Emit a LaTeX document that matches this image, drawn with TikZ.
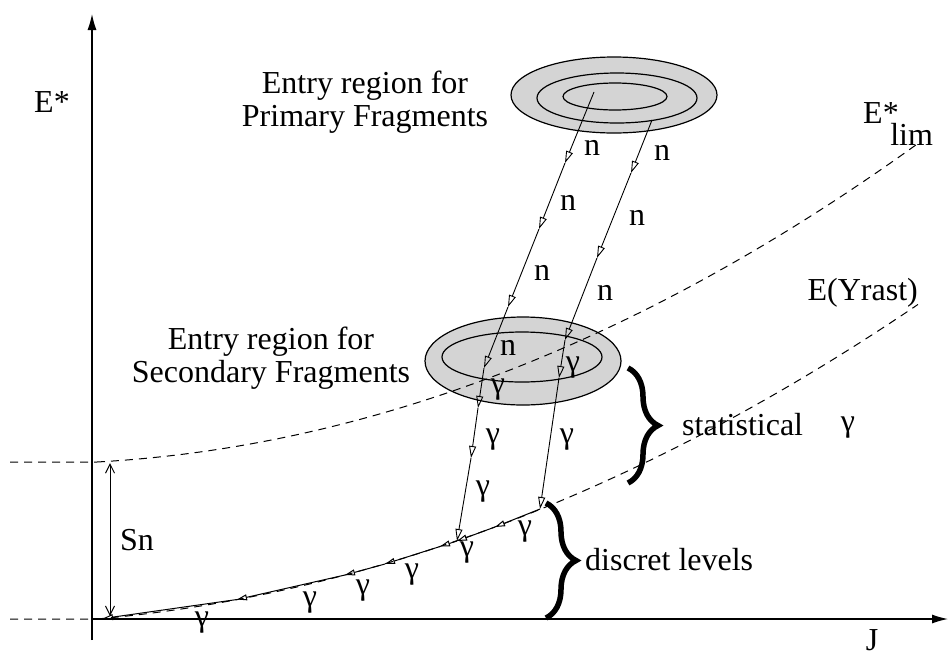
\documentclass[tikz,border=0pt]{standalone}
\usepackage{fontspec}
\setmainfont{Liberation Serif}
\usetikzlibrary{arrows.meta,decorations.pathreplacing,shapes.geometric}
\definecolor{regiongray}{RGB}{212,212,212}
\begin{document}
\begin{tikzpicture}[x=1pt,y=-1pt,
  lbl/.style={font=\fontsize{32}{33}\selectfont, inner sep=0pt},
  curve/.style={line width=1pt, dash pattern=on 8pt off 6pt},
  trans/.style={line width=0.9pt, -{Triangle[open,length=12pt,width=7pt]}},
  ylev/.style={line width=1pt, -{Triangle[open,length=10pt,width=6pt]}},
  axis/.style={line width=1.2pt, -{Latex[length=16pt,width=9pt]}},
  region/.style={draw, line width=1.2pt, fill=regiongray, ellipse, inner sep=0pt},
  bigbrace/.style={decorate, decoration={brace, amplitude=#1}, line width=5.5pt},
]
\useasboundingbox (0,0) rectangle (949,659);

% entry regions
\node[region, minimum width=206pt, minimum height=76pt] (prim3) at (614,95) {};
\node[region, minimum width=160pt, minimum height=50pt] (prim2) at (617,98) {};
\node[region, minimum width=104pt, minimum height=27pt] (prim1) at (615,96.5) {};
\node[region, minimum width=196pt, minimum height=88pt] (sec2) at (523,361) {};
\node[region, minimum width=160pt, minimum height=50pt] (sec1) at (522,357) {};

% axes
\coordinate (ybot) at (92,640);
\coordinate (ytop) at (92,14);
\coordinate (xbeg) at (92,619);
\coordinate (xend) at (948,619);
\draw[axis] (ybot) -- (ytop);
\draw[axis] (xbeg) -- (xend);

% dashed curves
\draw[curve] (10,619) -- (97,619) plot[domain=0:8.21,samples=60] ({97+100*\x},{619-8.84*\x-3.59*\x*\x});
\draw[curve] (10,462) -- (97,462) plot[domain=0:8.2,samples=60] ({97+100*\x},{462-5.55*\x-4.05*\x*\x});

% yrast levels
\coordinate (L0) at (540,509);
\coordinate (L1) at (495,527);
\coordinate (L2) at (457,541);
\coordinate (L3) at (440,546.5);
\coordinate (L4) at (385,564);
\coordinate (L5) at (345,575);
\coordinate (L6) at (237,599.5);
\coordinate (L7) at (103,618.5);
\draw[ylev] (L0) -- (L1);
\draw[ylev] (L1) -- (L2);
\draw[ylev] (L2) -- (L3);
\draw[ylev] (L3) -- (L4);
\draw[ylev] (L4) -- (L5);
\draw[ylev] (L5) -- (L6);
\draw[ylev] (L6) -- (L7);

% cascade 1
\coordinate (A0) at (594,92);
\coordinate (A1) at (565,163);
\coordinate (A2) at (539,229);
\coordinate (A3) at (508,307);
\coordinate (A4) at (484,368);
\coordinate (B1) at (478,408);
\coordinate (B2) at (471,458);
\draw[trans] (A0) -- (A1);
\draw[trans] (A1) -- (A2);
\draw[trans] (A2) -- (A3);
\draw[trans] (A3) -- (A4);
\draw[trans] (A4) -- (B1);
\draw[trans] (B1) -- (B2);
\draw[trans] (B2) -- (L2);

% cascade 2
\coordinate (C0) at (652,120);
\coordinate (C1) at (631,173);
\coordinate (C2) at (597,258);
\coordinate (C3) at (565,340);
\coordinate (D1) at (559,378);
\draw[trans] (C0) -- (C1);
\draw[trans] (C1) -- (C2);
\draw[trans] (C2) -- (C3);
\draw[trans] (C3) -- (D1);
\draw[trans] (D1) -- (L0);

% Sn
\coordinate (sntop) at (110,463);
\coordinate (snbot) at (110,616);
\draw[line width=1pt, {Straight Barb[length=9pt,width=9pt]}-{Straight Barb[length=9pt,width=9pt]}] (sntop) -- (snbot);

% braces
\coordinate (br1a) at (628,368);
\coordinate (br1b) at (628,483);
\coordinate (br2a) at (546,503);
\coordinate (br2b) at (546,618);
\draw[bigbrace=30pt] (br1a) -- (br1b);
\draw[bigbrace=30pt] (br2a) -- (br2b);

% labels
\node[lbl, anchor=base] (Estar) at (52,112) {E*};
\node[lbl, anchor=base] (Jlbl) at (872,650) {J};
\node[lbl, anchor=base west] (Elim) at (863,123) {E*\hspace{-8.5pt}\raisebox{-22pt}{lim}};
\node[lbl, anchor=base east] (Eyr) at (918,300) {E(Yrast)};
\node[lbl, align=center] (primtxt) at (365,102) {Entry region for\\Primary Fragments};
\node[lbl, align=center] (sectxt) at (271,358) {Entry region for\\Secondary Fragments};
\node[lbl, anchor=base west] (Sn) at (120,550) {Sn};
\node[lbl, anchor=base west] (stat) at (682,435) {statistical};
\node[lbl] (statg) at (848,428) {γ};
\node[lbl, anchor=base west] (disc) at (585,570) {discret levels};

\foreach \p [count=\i] in {(592,148),(662,153),(568,203),(637,218),(542,273),(605,293),(508,348)}
  \node[lbl] (n\i) at \p {n};
\foreach \p [count=\i] in {(573,368),(498,390),(493,440),(567,440),(483,492),(202,623),(310,603),(363,591),(412,575),(467,553),(525,532)}
  \node[lbl] (g\i) at \p {γ};
\end{tikzpicture}
\end{document}
